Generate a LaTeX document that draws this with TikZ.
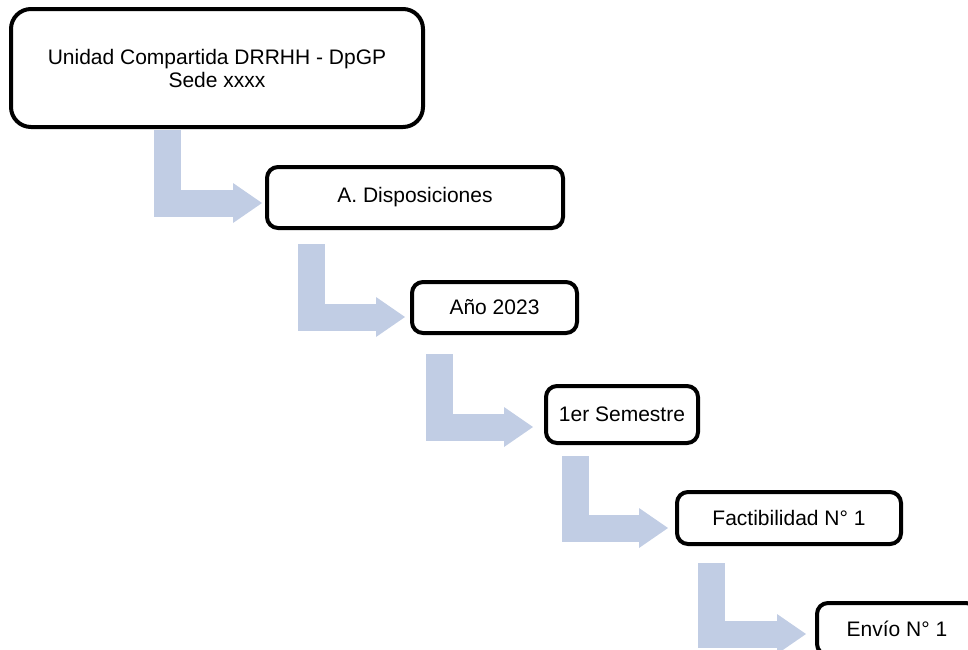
\documentclass[tikz,border=0pt]{standalone}
\usepackage{fontspec}
\setmainfont{Liberation Sans}
\usetikzlibrary{arrows.meta}

\definecolor{azulFlecha}{HTML}{C1CDE4}

\begin{document}
\begin{tikzpicture}[
    x=1pt, y=-1pt,
    caja/.style={rectangle, draw, line width=4pt, rounded corners=11pt, fill=white, text centered, inner sep=0pt, font=\fontsize{21}{23}\selectfont},
    cajaGrande/.style={caja, rounded corners=20pt, align=center},
    flecha/.style={draw=azulFlecha, line width=27pt, line join=miter, -{Triangle[length=29pt, width=40pt, line width=0pt]}}
    ]

    % Marco de la figura
    \clip (0,0) rectangle (968,649);

    % Niveles de la jerarquía
    \node[cajaGrande, minimum width=412pt, minimum height=118pt] (Unidad) at (217,68) {Unidad Compartida DRRHH - DpGP\\Sede xxxx};
    \node[caja, minimum width=296pt, minimum height=61pt] (Disposiciones) at (415,197.5) {A. Disposiciones};
    \node[caja, minimum width=165pt, minimum height=51pt] (Anio) at (494.5,307.5) {Año 2023};
    \node[caja, minimum width=152pt, minimum height=57pt] (Semestre) at (622,414.5) {1er Semestre};
    \node[caja, minimum width=224pt, minimum height=52pt] (Factibilidad) at (789,518) {Factibilidad N° 1};
    \node[caja, minimum width=160pt, minimum height=52pt] (Envio) at (897,629) {Envío N° 1};

    % Flechas de bajada entre niveles
    \draw[flecha] ([shift={(-49.5,1)}]Unidad.south) |- ([shift={(-3,5.5)}]Disposiciones.west);
    \draw[flecha] ([shift={(-103.5,14)}]Disposiciones.south) |- ([shift={(-5,9.5)}]Anio.west);
    \draw[flecha] ([shift={(-55,19)}]Anio.south) |- ([shift={(-11,12.5)}]Semestre.west);
    \draw[flecha] ([shift={(-46.5,11)}]Semestre.south) |- ([shift={(-7,10)}]Factibilidad.west);
    \draw[flecha] ([shift={(-77.5,17)}]Factibilidad.south) |- ([shift={(-9,5)}]Envio.west);

\end{tikzpicture}
\end{document}
